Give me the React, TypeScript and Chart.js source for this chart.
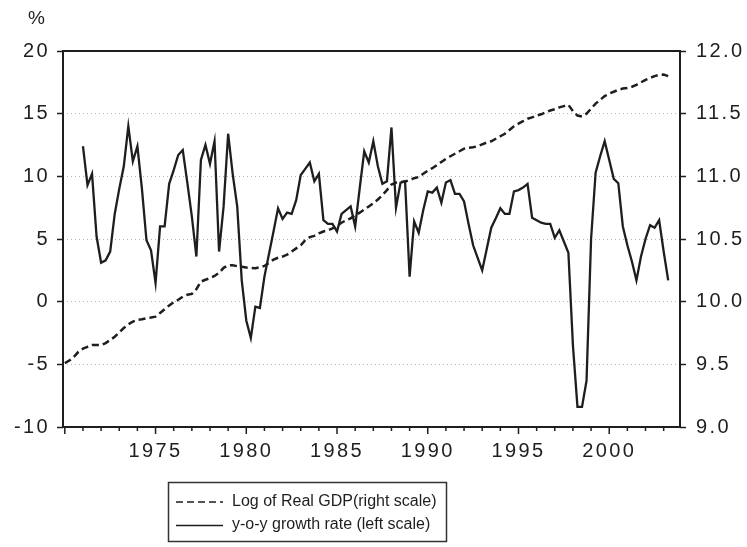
import React, { useEffect, useRef } from 'react';
import { Chart, registerables } from 'chart.js';

Chart.register(...registerables);

// ---- data ----
const gdpStartYear = 1970; // first observation: 1970Q1
const growthStartYear = 1971; // first observation: 1971Q1

// Log of real GDP (right scale), quarterly from 1970Q1
const gdpLog = [
  9.51, 9.53, 9.56, 9.6,
  9.625, 9.64, 9.654, 9.654,
  9.654, 9.67, 9.694, 9.72,
  9.755, 9.79, 9.82, 9.84,
  9.855, 9.86, 9.867, 9.873,
  9.88, 9.91, 9.94, 9.97,
  9.995, 10.015, 10.04, 10.055,
  10.062, 10.1, 10.16, 10.175,
  10.187, 10.205, 10.23, 10.27,
  10.29, 10.29, 10.283, 10.278,
  10.272, 10.268, 10.267, 10.275,
  10.285, 10.31, 10.335, 10.35,
  10.36, 10.375, 10.4, 10.425,
  10.45, 10.49, 10.515, 10.525,
  10.545, 10.56, 10.57, 10.585,
  10.605, 10.63, 10.65, 10.665,
  10.69, 10.71, 10.735, 10.76,
  10.785, 10.815, 10.85, 10.89,
  10.935, 10.95, 10.955, 10.958,
  10.97, 10.985, 10.995, 11.02,
  11.045, 11.065, 11.09, 11.115,
  11.14, 11.16, 11.18, 11.2,
  11.22, 11.228, 11.232, 11.24,
  11.255, 11.27, 11.28, 11.3,
  11.32, 11.34, 11.37, 11.4,
  11.42, 11.44, 11.46, 11.47,
  11.485, 11.495, 11.51, 11.525,
  11.535, 11.55, 11.56, 11.57,
  11.52, 11.485, 11.478, 11.5,
  11.54, 11.58, 11.61, 11.64,
  11.66, 11.675, 11.69, 11.7,
  11.705, 11.715, 11.73, 11.75,
  11.77, 11.785, 11.8, 11.81,
  11.812, 11.8,
];

// y-o-y growth rate in % (left scale), quarterly from 1971Q1
const growthYoY = [
  12.4, 9.3, 10.2, 5.2,
  3.1, 3.3, 4.0, 7.0,
  9.0, 10.8, 14.0, 11.2,
  12.4, 9.0, 4.9, 4.1,
  1.5, 6.0, 6.0, 9.4,
  10.5, 11.7, 12.1, 9.5,
  6.8, 3.6, 11.3, 12.5,
  11.0, 12.8, 4.0, 7.6,
  13.4, 10.2, 7.6, 1.7,
  -1.5, -2.9, -0.4, -0.5,
  2.0, 3.8, 5.6, 7.45,
  6.6, 7.1, 7.0, 8.1,
  10.1, 10.6, 11.1, 9.6,
  10.2, 6.5, 6.2, 6.2,
  5.6, 7.0, 7.3, 7.6,
  6.0, 9.05, 12.0, 11.1,
  12.8, 10.8, 9.4, 9.6,
  13.9, 7.5, 9.5, 9.6,
  2.0, 6.4, 5.5, 7.3,
  8.8, 8.7, 9.1, 7.9,
  9.5, 9.7, 8.6, 8.6,
  8.0, 6.2, 4.5, 3.5,
  2.5, 4.2, 5.9, 6.65,
  7.45, 7.0, 7.0, 8.8,
  8.9, 9.1, 9.4, 6.7,
  6.5, 6.3, 6.2, 6.2,
  5.1, 5.7, 4.8, 3.9,
  -3.5, -8.4, -8.4, -6.3,
  5.0, 10.3, 11.6, 12.8,
  11.3, 9.8, 9.45, 6.0,
  4.5, 3.2, 1.7, 3.6,
  5.0, 6.1, 5.9, 6.5,
  4.0, 1.7,
];

const yearLabels = [1975, 1980, 1985, 1990, 1995, 2000];
const minorYears = Array.from({ length: 34 }, (_, i) => 1970 + i);
const leftTicks = [-10, -5, 0, 5, 10, 15, 20];
const rightTicks = [9.0, 9.5, 10.0, 10.5, 11.0, 11.5, 12.0];
const gdpLabel = 'Log of Real GDP(right scale)';
const growthLabel = 'y-o-y growth rate (left scale)';
const unitLabel = '%';

const FAMILY = '"Liberation Sans", Arial, Helvetica, sans-serif';
const INK = '#1e1e1e';
const TICK_SPACING = '2.4px';

const toPoints = (start: number, vals: number[]) =>
  vals.map((v, i) => ({ x: start + i / 4, y: v }));

const framePlugin = {
  id: 'frameAndLegend',
  beforeUpdate(chart: any) {
    chart.ctx.letterSpacing = TICK_SPACING;
  },
  beforeLayout(chart: any) {
    chart.ctx.letterSpacing = TICK_SPACING;
  },
  beforeDraw(chart: any) {
    chart.ctx.letterSpacing = TICK_SPACING;
  },
  afterDraw(chart: any) {
    const { ctx, chartArea: a, scales } = chart;
    ctx.save();
    // frame
    ctx.strokeStyle = INK;
    ctx.lineWidth = 2;
    ctx.setLineDash([]);
    ctx.strokeRect(a.left, a.top, a.right - a.left, a.bottom - a.top);
    // x tick marks (major every 5 years, minor every year)
    ctx.lineWidth = 1.5;
    for (const yr of minorYears) {
      const px = scales.x.getPixelForValue(yr);
      if (px < a.left - 0.5 || px > a.right + 0.5) continue;
      const len = yr % 5 === 0 ? 7 : 4;
      ctx.beginPath();
      ctx.moveTo(px, a.bottom);
      ctx.lineTo(px, a.bottom + len);
      ctx.stroke();
    }
    // unit label
    ctx.fillStyle = INK;
    ctx.letterSpacing = '0px';
    ctx.font = `19px ${FAMILY}`;
    ctx.textAlign = 'left';
    ctx.textBaseline = 'top';
    ctx.fillText(unitLabel, 28, 9);

    // legend box
    const bx = 168.5, by = 482.5, bw = 278, bh = 59;
    ctx.lineWidth = 1.5;
    ctx.strokeStyle = '#333';
    ctx.strokeRect(bx, by, bw, bh);
    const rows = [502, 525.5];
    ctx.font = `16px ${FAMILY}`;
    ctx.letterSpacing = '0px';
    ctx.textBaseline = 'middle';
    chart.data.datasets.forEach((ds: any, i: number) => {
      const y = rows[i];
      ctx.save();
      ctx.strokeStyle = INK;
      ctx.lineWidth = 1.6;
      ctx.setLineDash(ds.borderDash || []);
      ctx.beginPath();
      ctx.moveTo(176, y);
      ctx.lineTo(223, y);
      ctx.stroke();
      ctx.restore();
      ctx.fillStyle = INK;
      ctx.fillText(ds.label, 232, y - 0.5);
    });
    ctx.restore();
    ctx.letterSpacing = TICK_SPACING;
  },
};

export default function App() {
  const ref = useRef<HTMLCanvasElement | null>(null);

  useEffect(() => {
    const canvas = ref.current;
    if (!canvas) return;
    const tickFont = { family: FAMILY, size: 20 };
    const chart = new Chart(canvas, {
      type: 'line',
      data: {
        datasets: [
          {
            label: gdpLabel,
            data: toPoints(gdpStartYear, gdpLog),
            yAxisID: 'y1',
            borderColor: INK,
            borderWidth: 2.5,
            borderDash: [7, 4],
            pointRadius: 0,
            tension: 0,
            fill: false,
          },
          {
            label: growthLabel,
            data: toPoints(growthStartYear, growthYoY),
            yAxisID: 'y',
            borderColor: INK,
            borderWidth: 2.3,
            pointRadius: 0,
            tension: 0,
            fill: false,
          },
        ],
      },
      options: {
        responsive: false,
        animation: false,
        events: [],
        layout: { padding: { top: 51, left: 0, right: 0, bottom: 0 } },
        plugins: {
          legend: { display: false },
          tooltip: { enabled: false },
          title: { display: false },
        },
        scales: {
          x: {
            type: 'linear',
            position: 'bottom',
            min: 1969.9,
            max: 2003.9,
            afterBuildTicks: (axis: any) => {
              axis.ticks = yearLabels.map((v) => ({ value: v }));
            },
            afterFit: (s: any) => {
              s.height = 120;
            },
            grid: { display: true, drawOnChartArea: false, drawTicks: false, color: 'rgba(0,0,0,0)' },
            border: { display: false },
            ticks: {
              font: tickFont,
              color: INK,
              padding: 12,
              maxRotation: 0,
              autoSkip: false,
              callback: (v: any) => String(v),
            },
          },
          y: {
            type: 'linear',
            position: 'left',
            min: -10,
            max: 20,
            afterBuildTicks: (axis: any) => {
              axis.ticks = leftTicks.map((v) => ({ value: v }));
            },
            afterFit: (s: any) => {
              s.width = 63;
            },
            grid: {
              color: (c: any) =>
                c.tick && (c.tick.value === -10 || c.tick.value === 20) ? 'rgba(0,0,0,0)' : '#b4b4b4',
              lineWidth: 1,
              drawTicks: true,
              tickLength: 6,
              tickColor: INK,
              tickWidth: 1.5,
              tickBorderDash: [],
            },
            border: { display: false, dash: [1, 3] },
            ticks: {
              font: tickFont,
              color: INK,
              padding: 7,
              autoSkip: false,
              callback: (v: any) => String(v),
            },
          },
          y1: {
            type: 'linear',
            position: 'right',
            min: 9,
            max: 12,
            afterBuildTicks: (axis: any) => {
              axis.ticks = rightTicks.map((v) => ({ value: v }));
            },
            afterFit: (s: any) => {
              s.width = 67;
            },
            grid: {
              drawOnChartArea: false,
              drawTicks: true,
              tickLength: 6,
              tickColor: INK,
              tickWidth: 1.5,
            },
            border: { display: false },
            ticks: {
              font: tickFont,
              color: INK,
              padding: 10,
              autoSkip: false,
              callback: (v: any) => Number(v).toFixed(1),
            },
          },
        },
      },
      plugins: [framePlugin],
    } as any);
    return () => chart.destroy();
  }, []);

  return (
    <div style={{ position: 'fixed', left: 0, top: 0, width: 747, height: 547, background: '#fff' }}>
      <canvas ref={ref} width={747} height={547} style={{ display: 'block', width: 747, height: 547 }} />
    </div>
  );
}
